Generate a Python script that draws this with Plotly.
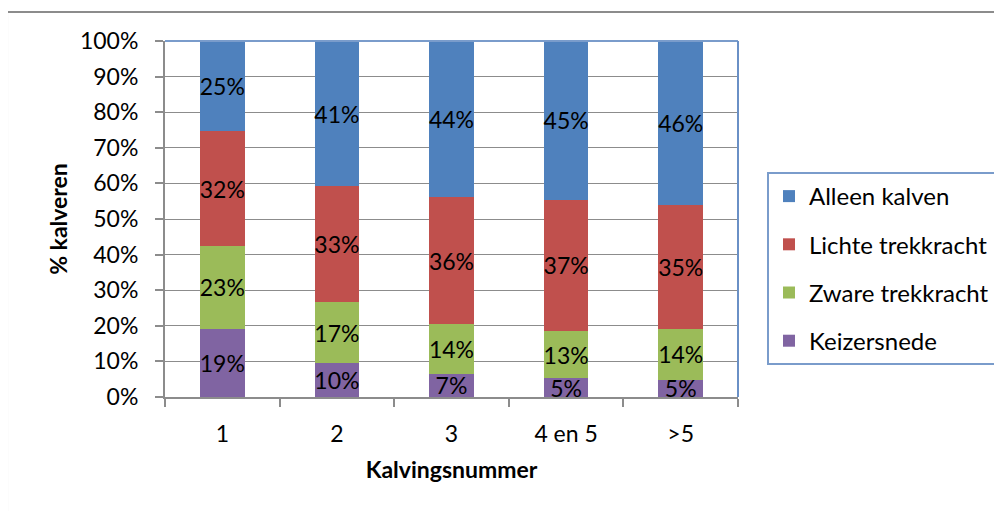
import plotly.graph_objects as go

categories = ["1", "2", "3", "4 en 5", ">5"]
keizersnede = [19.1, 9.6, 6.6, 5.3, 4.9]
zware_trekkracht = [23.4, 17.0, 13.9, 13.2, 14.1]
lichte_trekkracht = [32.1, 32.6, 35.6, 36.9, 35.0]
alleen_kalven = [25.4, 40.8, 43.9, 44.6, 46.0]

series = [
    ("Keizersnede", keizersnede, "#8064A2"),
    ("Zware trekkracht", zware_trekkracht, "#9BBB59"),
    ("Lichte trekkracht", lichte_trekkracht, "#C0504D"),
    ("Alleen kalven", alleen_kalven, "#4F81BD"),
]

FONT = "Lato"
FS = 23

fig = go.Figure()
for i, (name, vals, col) in enumerate(series):
    fig.add_trace(go.Bar(
        x=categories, y=vals, name=name, marker=dict(color=col, line=dict(width=0)),
        text=[f"{round(v)}%" for v in vals], textposition="inside",
        insidetextanchor="middle", textangle=0,
        textfont=dict(family=FONT, size=FS, color="black"),
        legendgroup=f"g{i}", legendrank=10 - i, cliponaxis=False,
    ))

fig.update_layout(
    barmode="stack", barnorm="percent", bargap=0.61,
    width=1002, height=511,
    margin=dict(l=157, r=272, t=33, b=122),
    paper_bgcolor="white", plot_bgcolor="white",
    font=dict(family=FONT, size=FS, color="black"),
    uniformtext=dict(minsize=FS, mode="show"),
    showlegend=True,
    legend=dict(
        x=1.0506, y=0.632, xanchor="left", yanchor="top",
        traceorder="grouped", tracegroupgap=14,
        bordercolor="#7A9CCB", borderwidth=2, bgcolor="white",
        font=dict(family=FONT, size=24),
    ),
    xaxis=dict(
        title=dict(text="<b>Kalvingsnummer</b>", standoff=16, font=dict(size=FS)),
        showline=True, linecolor="#8C8C8C", linewidth=2,
        ticks="outside", ticklen=8, tickcolor="#8C8C8C", tickwidth=2,
        tickson="boundaries", ticklabelstandoff=15,
        showgrid=False,
    ),
    yaxis=dict(
        title=dict(text="<b>% kalveren</b>", standoff=6, font=dict(size=FS)),
        range=[0, 100], dtick=10, ticksuffix="%",
        showline=True, linecolor="#8C8C8C", linewidth=2,
        ticks="outside", ticklen=8, tickcolor="#8C8C8C", tickwidth=2,
        ticklabelstandoff=12,
        showgrid=True, gridcolor="#8C8C8C", gridwidth=1,
        zeroline=False,
    ),
)

# plot-area border (top/right blue) and outer chart border
fig.add_shape(type="line", xref="paper", yref="paper", x0=0, x1=1, y0=1, y1=1,
              line=dict(color="#7A9CCB", width=2), layer="above")
fig.add_shape(type="line", xref="paper", yref="paper", x0=1, x1=1, y0=0, y1=1,
              line=dict(color="#6A90C6", width=2), layer="above")
fig.add_shape(type="rect", xref="paper", yref="paper",
              x0=-0.2757, x1=1.6, y0=-0.6, y1=1.0815,
              line=dict(color="#8C8C8C", width=2), layer="below")

fig.write_html("out.html")
